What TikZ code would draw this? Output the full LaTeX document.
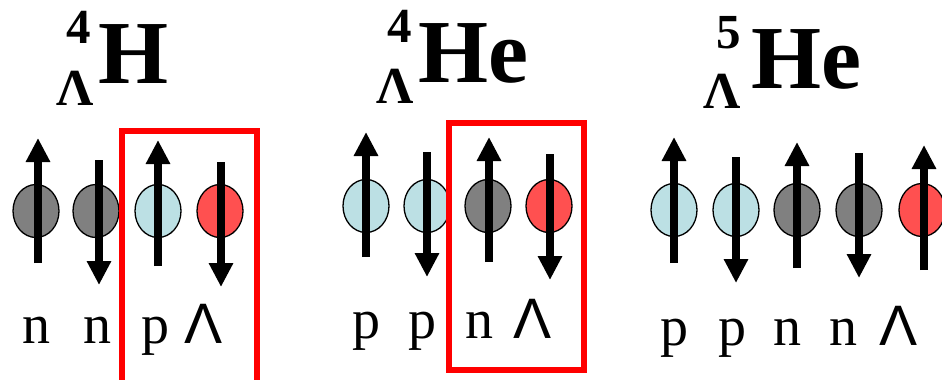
\documentclass[tikz,border=0pt]{standalone}
\usepackage{fontspec}
\setmainfont{Liberation Serif}
\newfontfamily\arialf{Liberation Sans}
\usetikzlibrary{arrows.meta,shapes.geometric}
\definecolor{ngrey}{HTML}{808080}
\definecolor{pblue}{HTML}{BCE0E4}
\definecolor{lred}{HTML}{FF5050}
\definecolor{boxred}{HTML}{FF0000}
\tikzset{
  nuc/.style={ellipse,draw=black,line width=1.3pt,minimum width=46pt,minimum height=53pt,inner sep=0pt},
  neu/.style={nuc,fill=ngrey},
  pro/.style={nuc,fill=pblue},
  lam/.style={nuc,fill=lred},
  spin/.style={line width=8pt,-{Triangle[width=23pt,length=24pt]}},
  lbl/.style={anchor=base,inner sep=0pt,font=\fontsize{56}{60}\selectfont},
  llbl/.style={anchor=base,inner sep=0pt,font=\arialf\fontsize{57}{60}\selectfont},
  elem/.style={anchor=base west,inner sep=0pt,font=\bfseries\fontsize{90}{96}\selectfont},
  supnum/.style={anchor=base,inner sep=0pt,font=\bfseries\fontsize{49}{52}\selectfont},
  sublam/.style={anchor=base,inner sep=0pt,font=\bfseries\fontsize{52}{56}\selectfont},
  hbox/.style={draw=boxred,line width=6pt}
}
\begin{document}
\begin{tikzpicture}[x=1pt,y=-1pt]
\useasboundingbox (0,0) rectangle (942,380);
% ---------- panel 1 ----------
\node[supnum] (t1a) at (79,43) {4};
\node[sublam] (t1l) at (75,105) {Λ};
\node[elem] (t1e) at (98,83) {H};
\node[neu] (a1) at (36,211) {};
\node[neu] (a2) at (96,211) {};
\node[pro] (a3) at (158,211) {};
\node[lam] (a4) at (220,211) {};
\draw[spin] (38,263) -- (38,138);
\draw[spin] (99,160) -- (99,285);
\draw[spin] (158,266) -- (158,140);
\draw[spin] (221,162) -- (221,287);
\node[lbl] (la1) at (36,343) {n};
\node[lbl] (la2) at (97,343) {n};
\node[lbl] (la3) at (155,343) {p};
\node[llbl] (la4) at (204,343) {Λ};
\draw[hbox] (122,131) rectangle (257,392);
% ---------- panel 2 ----------
\node[supnum] (t2a) at (400,42) {4};
\node[sublam] (t2l) at (395,103) {Λ};
\node[elem] (t2e) at (418,82) {He};
\node[pro] (b1) at (366,206) {};
\node[pro] (b2) at (427,206) {};
\node[neu] (b3) at (488,206) {};
\node[lam] (b4) at (549,206) {};
\draw[spin] (366,257) -- (366,132);
\draw[spin] (427,152) -- (427,277);
\draw[spin] (489,262) -- (489,137);
\draw[spin] (550,154) -- (550,280);
\node[lbl] (lb1) at (366,338) {p};
\node[lbl] (lb2) at (422,338) {p};
\node[lbl] (lb3) at (479,338) {n};
\node[llbl] (lb4) at (533,338) {Λ};
\draw[hbox] (449,123) rectangle (584,370);
% ---------- panel 3 ----------
\node[supnum] (t3a) at (729,48) {5};
\node[sublam] (t3l) at (722,108) {Λ};
\node[elem] (t3e) at (751,88) {He};
\node[pro] (c1) at (674,210) {};
\node[pro] (c2) at (736,210) {};
\node[neu] (c3) at (797,210) {};
\node[neu] (c4) at (859,210) {};
\node[lam] (c5) at (922,210) {};
\draw[spin] (674,263) -- (674,137);
\draw[spin] (736,157) -- (736,283);
\draw[spin] (797,268) -- (797,142);
\draw[spin] (859,153) -- (859,278);
\draw[spin] (924,270) -- (924,145);
\node[lbl] (lc1) at (674,345) {p};
\node[lbl] (lc2) at (732,345) {p};
\node[lbl] (lc3) at (787,345) {n};
\node[lbl] (lc4) at (843,345) {n};
\node[llbl] (lc5) at (899,345) {Λ};
\end{tikzpicture}
\end{document}
